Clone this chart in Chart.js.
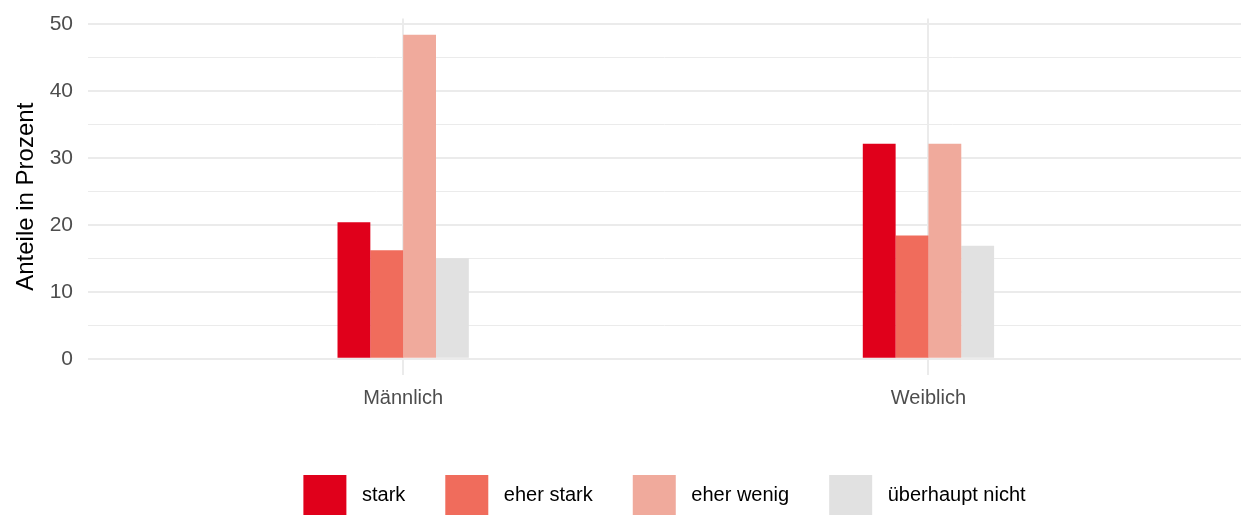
<!DOCTYPE html>
<html>
<head>
<meta charset="utf-8">
<script src="https://cdn.jsdelivr.net/npm/chart.js@4.4.1/dist/chart.umd.min.js"></script>
<style>
  html, body { margin: 0; padding: 0; background: #fff; overflow: hidden; }
  #wrap { width: 1241px; height: 515px; position: relative; }
</style>
</head>
<body>
<div id="wrap"><canvas id="chart"></canvas></div>
<script>
const categories = ['Männlich', 'Weiblich'];
const seriesNames = ['stark', 'eher stark', 'eher wenig', 'überhaupt nicht'];
const stark = [20.4, 32.1];
const eherStark = [16.2, 18.4];
const eherWenig = [48.4, 32.1];
const ueberhauptNicht = [15.0, 16.9];
const yTicks = [0, 5, 10, 15, 20, 25, 30, 35, 40, 45, 50];
const colors = ['#E0001B', '#F06C5C', '#F0AA9C', '#E1E1E1'];

const seriesValues = [stark, eherStark, eherWenig, ueberhauptNicht];

function buildDatasets() {
  return seriesNames.map((name, s) => ({
    label: name,
    data: categories.map((c, i) => ({ x: i + 1, y: seriesValues[s][i] })),
    backgroundColor: colors[s],
    borderWidth: 0,
    categoryPercentage: 0.25,
    barPercentage: 1.0
  }));
}

const gridColor = '#EBEBEB';
const fontFamily = 'Liberation Sans, Arial, sans-serif';

new Chart(document.getElementById('chart').getContext('2d'), {
  type: 'bar',
  data: { datasets: buildDatasets() },
  options: {
    responsive: true,
    maintainAspectRatio: false,
    animation: false,
    layout: { padding: { top: 18.5, left: 0, right: 0, bottom: -10 } },
    plugins: {
      tooltip: { enabled: false },
      legend: {
        position: 'bottom',
        fullSize: false,
        labels: {
          boxWidth: 43,
          boxHeight: 40,
          padding: 40,
          color: '#000',
          font: { family: fontFamily, size: 20 },
          generateLabels: (chart) => {
            const items = Chart.defaults.plugins.legend.labels.generateLabels(chart);
            items.forEach(it => { it.text = ' ' + it.text; it.lineWidth = 0; });
            return items;
          }
        }
      }
    },
    scales: {
      x: {
        type: 'linear',
        min: 0.4,
        max: 2.595,
        offset: false,
        afterBuildTicks: (scale) => {
          scale.ticks = categories.map((c, i) => ({ value: i + 1 }));
        },
        afterFit: (scale) => { scale.height = 60; scale.paddingLeft = 0; scale.paddingRight = 0; },
        ticks: {
          padding: 11,
          color: '#4D4D4D',
          font: { family: fontFamily, size: 20 },
          callback: (v) => categories[Math.round(v) - 1]
        },
        grid: { color: gridColor, lineWidth: 2, drawTicks: false, offset: false },
        border: { display: false }
      },
      y: {
        min: -2.42,
        max: 50.82,
        afterBuildTicks: (scale) => {
          scale.ticks = yTicks.map(v => ({ value: v }));
        },
        afterFit: (scale) => { scale.width = 88; scale.paddingTop = 0; scale.paddingBottom = 0; },
        ticks: {
          padding: 15,
          color: '#4D4D4D',
          font: { family: fontFamily, size: 21 },
          callback: (v) => (v % 10 === 0 ? v : '')
        },
        grid: {
          color: gridColor,
          lineWidth: (ctx) => (ctx.tick && ctx.tick.value % 10 === 0 ? 2 : 1),
          drawTicks: false
        },
        border: { display: false },
        title: {
          display: true,
          text: 'Anteile in Prozent',
          color: '#000',
          padding: { top: 12, bottom: 0 },
          font: { family: fontFamily, size: 24 }
        }
      }
    }
  }
});
</script>
</body>
</html>
